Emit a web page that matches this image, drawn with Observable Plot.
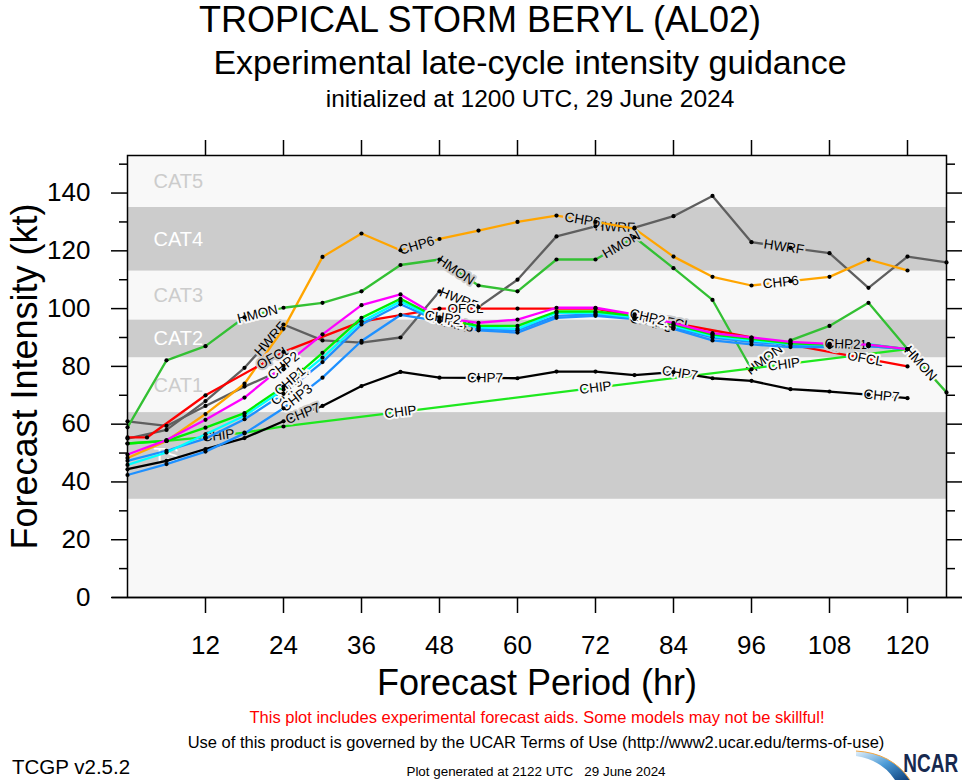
<!DOCTYPE html>
<html><head><meta charset="utf-8">
<script src="https://cdn.jsdelivr.net/npm/d3@7"></script>
<script src="https://cdn.jsdelivr.net/npm/@observablehq/plot@0.6"></script>
<style>
body{margin:0;background:#fff;font-family:"Liberation Sans",Arial,Helvetica,sans-serif;}
#wrap{position:relative;width:962px;height:780px;overflow:hidden;background:#fff;}
.t{position:absolute;white-space:nowrap;transform:translateX(-50%);color:#000;line-height:1;}
#chart{position:absolute;left:0;top:120px;}
#ncar{position:absolute;right:4px;top:751px;font-weight:bold;font-size:25px;line-height:1;color:#17294f;
  transform:scaleX(0.76);transform-origin:right center;white-space:nowrap;}
</style></head><body>
<div id="wrap">
<div class="t" style="left:480px;top:2px;font-size:36px">TROPICAL STORM BERYL (AL02)</div>
<div class="t" style="left:530px;top:45px;font-size:34px">Experimental late-cycle intensity guidance</div>
<div class="t" style="left:530px;top:87px;font-size:24.5px">initialized at 1200 UTC, 29 June 2024</div>
<div id="chart"></div>
<div class="t" style="left:537px;top:709px;font-size:16.5px;color:#ff0000">This plot includes experimental forecast aids. Some models may not be skillful!</div>
<div class="t" style="left:536px;top:734px;font-size:16.5px">Use of this product is governed by the UCAR Terms of Use (http://www2.ucar.edu/terms-of-use)</div>
<div class="t" style="left:12px;top:757px;font-size:20.5px;transform:none">TCGP v2.5.2</div>
<div class="t" style="left:536px;top:765px;font-size:13.4px">Plot generated at 2122 UTC&nbsp;&nbsp;&nbsp;29 June 2024</div>
<svg width="62" height="36" style="position:absolute;left:852px;top:744px">
 <defs><linearGradient id="sw" x1="0" y1="0" x2="1" y2="1">
  <stop offset="0" stop-color="#e3f0fa"/><stop offset="0.5" stop-color="#4a9ad6"/><stop offset="1" stop-color="#0d3d78"/></linearGradient></defs>
 <path d="M4,7 Q40,9 58,36 L43,36 Q30,16 4,12 Z" fill="url(#sw)"/>
 <path d="M4,7 Q40,9 58,36" stroke="#f2a541" stroke-width="1" fill="none"/>
</svg>
<div id="ncar">NCAR</div>
</div>
<script>
// ---- forecast hours ----
const hours = [0,6,12,18,24,30,36,42,48,54,60,66,72,78,84,90,96,102,108,114,120];
const hoursLong = [0,6,12,18,24,30,36,42,48,54,60,66,72,78,84,90,96,102,108,114,120,126];
const hoursOfcl = [0,3,12,24,36,48,60,72,96,120];
const hoursChip = [0,6,12,18,24,120];
const hoursEarly = [0,6,12,18,24];

// ---- intensities (kt) ----
const ktEarly = [61,59.4,66.3,73,79];
const ktHWRF = [55,58,68,79.5,94.5,89,88.2,90,106,100.5,110,125,128.5,128,132,139,123,121,119.2,107.2,118,116];
const ktCHP6 = [48.3,54.2,63.5,74,93,117.9,126,120.2,124.1,127,130,132.2,130,127.7,118,111,108,109.5,111,117,113.2];
const ktHMON = [58.9,82.1,87,97,100.3,102,106,115.1,117,108,106,117,117,124.7,114,103,79,89,94,102,86,71];
const ktCHIP = [53.3,54.2,55.5,57.1,59.2,86];
const ktCHP7 = [44.4,47.3,51.4,55.2,61,66.3,73.2,78.1,76.1,76,75.9,78.2,78.2,77,78,75.9,75,72.1,71.3,70.2,69];
const ktOFCL = [55.4,55.4,70,85,95.5,100,100,100,90,80];
const ktCHP2 = [49.5,54.5,61.5,69.2,80.2,91.1,101.2,104.9,97,95.1,96.2,100.3,100.3,98,95,91.5,90,88.5,87.8,87.5,86];
const ktCHP1 = [53.3,54.2,58.8,63.8,73,84.7,96.8,103.4,96.5,94,94,99,99,97.5,94.5,91,89.5,88,87.5,87.5,86];
const ktCHP3 = [42.4,46.2,50.5,56.8,65.5,76.1,88.8,97.8,95.7,92.5,91.7,96.8,97.5,96.4,93,89,87.6,86.7,86.7,87,86];
const ktCHP5 = [47.3,50.8,55,61.7,70.5,81.5,94.5,101.5,95.5,93,92.5,97.5,98,96.5,93.5,90,88.5,87.5,87.2,87,86];
const ktCHP4 = [45.9,50.2,56.5,62.9,72,83,95.5,102.5,96,93.5,93,98.5,98.5,97,94,90.5,89,87.8,87.5,87.7,86];

// ---- intensity categories ----
const catNames = ["TS","CAT1","CAT2","CAT3","CAT4","CAT5"];
const catLow = [34,64,83,96,113,135];
const catHigh = [64,83,96,113,135,153];
const catShaded = [true,false,true,false,true,false];

// ---- axis ticks ----
const xTicks = [12,24,36,48,60,72,84,96,108,120];
const yTicks = [0,20,40,60,80,100,120,140];
const yMinor = [10,30,50,70,90,110,130,150];

// ---- series styling ----
const series = [
  {name:"", hours:hoursEarly, kt:ktEarly, color:"#5f5f5f", labels:[]},
  {name:"HWRF", hours:hoursLong, kt:ktHWRF, color:"#5f5f5f", labels:[22,51,75,101]},
  {name:"CHP6", hours:hours, kt:ktCHP6, color:"#ffa500", labels:[44.5,70,100.5]},
  {name:"HMON", hours:hoursLong, kt:ktHMON, color:"#33c033", labels:[20,50.5,76,98,122]},
  {name:"CHIP", hours:hoursChip, kt:ktCHIP, color:"#1ee81e", labels:[14,42,72,101]},
  {name:"CHP7", hours:hours, kt:ktCHP7, color:"#000000", labels:[27,55,85,116]},
  {name:"OFCL", hours:hoursOfcl, kt:ktOFCL, color:"#ff0000", labels:[22.5,52,84,113.5]},
  {name:"CHP3", hours:hours, kt:ktCHP3, color:"#1e90ff", labels:[26,50,81,111]},
  {name:"CHP5", hours:hours, kt:ktCHP5, color:"#1e90ff", labels:[24.5,50.5,80,110.5]},
  {name:"CHP4", hours:hours, kt:ktCHP4, color:"#00ffff", labels:[25.5,49.5,81.5,110]},
  {name:"CHP1", hours:hours, kt:ktCHP1, color:"#00ee00", labels:[25,49,80.5,111]},
  {name:"CHP2", hours:hours, kt:ktCHP2, color:"#ff00ff", labels:[24,48.5,80,110]}
];

const W = 962, Hh = 580, mT = 35, mB = 103, mL = 127, mR = 16;
const xDom = [0,126], yDom = [0,153];
const kx = (W - mL - mR) / (xDom[1] - xDom[0]);
const ky = (Hh - mT - mB) / (yDom[1] - yDom[0]);

const cats = catNames.map((n,i)=>({name:n, lo:catLow[i], hi:catHigh[i], shaded:catShaded[i]}));
const bgAt = v => cats.some(c => c.shaded && v >= c.lo && v < c.hi) ? "#cccccc" : "#f8f8f8";

const rows = s => s.hours.map((h,i)=>({h, v:s.kt[i], name:s.name}));
function labelRows(s){
  return s.labels.map(h=>{
    let i = 0;
    while (i < s.hours.length-2 && s.hours[i+1] < h) i++;
    const h0=s.hours[i], h1=s.hours[i+1], v0=s.kt[i], v1=s.kt[i+1];
    const t=(h-h0)/(h1-h0);
    const v=v0+(v1-v0)*t;
    const ang=-Math.atan2((v1-v0)*ky,(h1-h0)*kx)*180/Math.PI;
    return {h, v, ang, text:s.name, bg:bgAt(v)};
  });
}

const marks = [
  Plot.frame({fill:"#f8f8f8"}),
  Plot.rect(cats.filter(c=>c.shaded), {y1:"lo", y2:"hi", fill:"#cccccc"}),
  Plot.text(cats, {y:d=>(d.lo+d.hi)/2, text:"name", frameAnchor:"left", dx:26, textAnchor:"start",
    fill:d=>d.shaded?"#ffffff":"#cccccc", fontSize:20})
];
for (const s of series){
  marks.push(Plot.line(rows(s), {x:"h", y:"v", stroke:s.color, strokeWidth:2.3}));
  if (s.labels.length) marks.push(Plot.text(labelRows(s), {x:"h", y:"v", text:"text", rotate:"ang",
    fontSize:13.5, fill:"black", stroke:"bg", strokeWidth:4}));
}
const allPts = series.flatMap(rows);
marks.push(Plot.dot(allPts, {x:"h", y:"v", r:2.1, fill:"black"}));
marks.push(
  Plot.frame({stroke:"black", strokeWidth:1.5}),
  Plot.ruleY([0], {insetLeft:-15, insetRight:-16, stroke:"black", strokeWidth:1.5}),
  Plot.axisY({anchor:"left", ticks:yTicks, tickSize:16, tickPadding:21, fontSize:26, strokeWidth:1.5, label:null}),
  Plot.axisY({anchor:"left", ticks:yMinor, tickSize:8, tickFormat:()=>"", strokeWidth:1.5, label:null}),
  Plot.axisY({anchor:"right", ticks:yTicks, tickSize:16, tickFormat:()=>"", strokeWidth:1.5, label:null}),
  Plot.axisY({anchor:"right", ticks:yMinor, tickSize:8, tickFormat:()=>"", strokeWidth:1.5, label:null}),
  Plot.axisX({anchor:"bottom", ticks:xTicks, tickSize:16, tickPadding:22, fontSize:26, strokeWidth:1.5, label:null}),
  Plot.axisX({anchor:"top", ticks:xTicks, tickSize:16, tickFormat:()=>"", strokeWidth:1.5, label:null}),
  Plot.text(["Forecast Intensity (kt)"], {frameAnchor:"left", dx:-102, rotate:-90, fontSize:36, textAnchor:"middle", lineAnchor:"middle"}),
  Plot.text(["Forecast Period (hr)"], {frameAnchor:"bottom", dy:86, fontSize:36, textAnchor:"middle", lineAnchor:"middle"})
);

const chart = Plot.plot({
  width:W, height:Hh, marginTop:mT, marginBottom:mB, marginLeft:mL, marginRight:mR,
  x:{domain:xDom}, y:{domain:yDom},
  style:{fontFamily:"Liberation Sans, Arial, Helvetica, sans-serif", background:"transparent", overflow:"visible", color:"black"},
  marks
});
document.getElementById("chart").appendChild(chart);
</script>
</body></html>
